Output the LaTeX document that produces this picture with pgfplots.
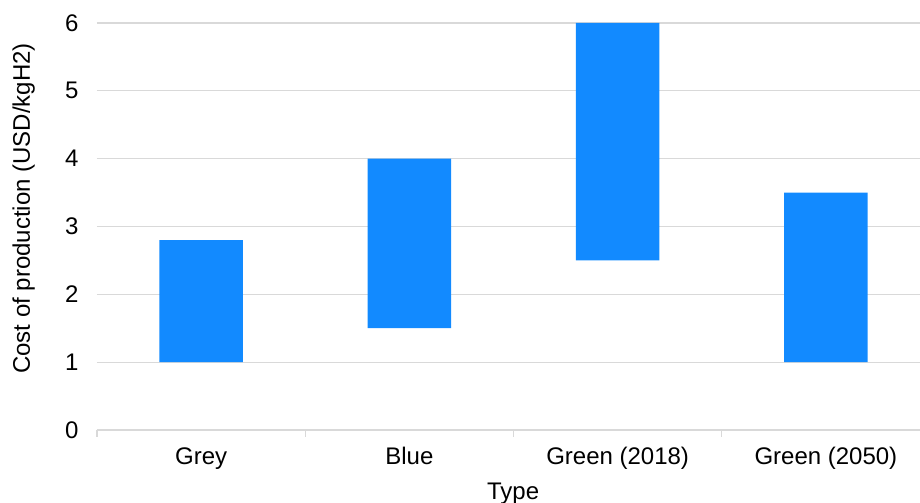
\documentclass[border=0pt]{standalone}
\usepackage{fontspec}
\setmainfont{Liberation Sans}
\usepackage{pgfplots}
\pgfplotsset{compat=1.18}

\definecolor{barblue}{RGB}{18,138,255}
\definecolor{gridgray}{RGB}{217,217,217}

% lower end and length of each floating bar
\pgfplotstableread{
x base span
0 1.0 1.8
1 1.5 2.5
2 2.5 3.5
3 1.0 2.5
}\costdata

\begin{document}
\fontsize{24bp}{28bp}\selectfont
\begin{tikzpicture}
\begin{axis}[
  name=ax,
  scale only axis,
  width=833bp, height=407bp,
  ybar stacked,
  bar width=83.5bp,
  xmin=-0.5, xmax=3.5,
  ymin=0, ymax=6,
  ytick={0,1,...,6},
  xtick={0,1,2,3},
  xticklabels={Grey, Blue, Green (2018), Green (2050)},
  minor xtick={-0.5,0.5,1.5,2.5,3.5},
  axis x line*=bottom,
  axis y line*=left,
  x axis line style={draw=gridgray, line width=1.3bp, -},
  y axis line style={draw=none},
  ymajorgrids,
  major grid style={draw=gridgray, line width=1.3bp},
  tick align=outside,
  major x tick style={draw=none},
  major y tick style={draw=none},
  minor x tick style={draw=gridgray, line width=1.3bp},
  minor tick length=7bp,
  /pgf/number format/assume math mode=true,
  ticklabel style={font=\fontsize{24bp}{28bp}\selectfont},
  yticklabel style={anchor=east, inner sep=0pt, xshift=-14bp},
  xticklabel style={anchor=base, inner sep=0pt, yshift=-30bp},
  xlabel={Type},
  ylabel={Cost of production (USD/kgH2)},
  label style={font=\fontsize{24bp}{28bp}\selectfont},
  xlabel style={at={(axis description cs:0.4995,-0.172)}, anchor=base, inner sep=0pt},
  ylabel style={at={(axis description cs:-0.088,0.544)}, anchor=center, inner sep=0pt},
]
\addplot+[ybar, draw=none, fill=none, forget plot] table[x=x, y=base] {\costdata};
\addplot+[ybar, draw=none, fill=barblue] table[x=x, y=span] {\costdata};
\end{axis}
\pgfresetboundingbox
\path ([shift={(-97bp,-73bp)}]ax.south west) rectangle ([shift={(823bp,23bp)}]ax.north west);
\end{tikzpicture}
\end{document}
